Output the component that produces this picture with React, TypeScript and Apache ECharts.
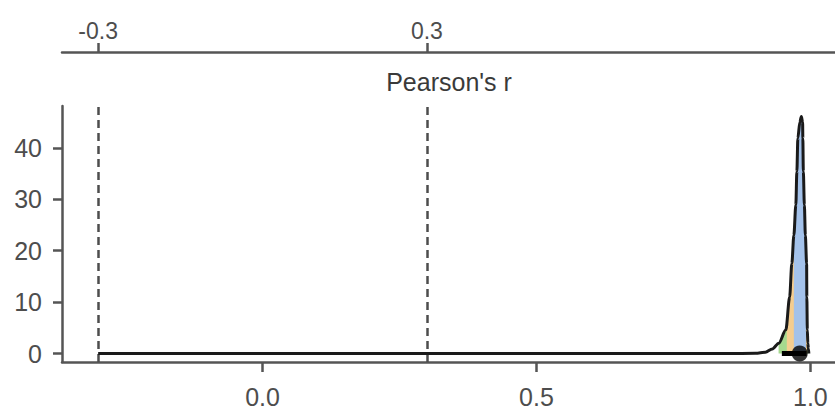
import React, { useEffect, useRef } from "react";
import * as echarts from "echarts";

// Posterior density of Pearson's r
const densityR = [-0.3, 0.85, 0.9, 0.918, 0.9306, 0.9425, 0.9553, 0.9622, 0.9662, 0.9699, 0.9735, 0.9754, 0.9772, 0.9808, 0.9836, 0.9859, 0.9863, 0.9872, 0.9891, 0.9909, 0.9932, 0.9936, 0.9945, 0.9954, 0.9964, 0.9973];
const densityVal = [0, 0, 0.03, 0.25, 0.9, 2.0, 4.6, 11, 17.5, 23, 28.9, 35.4, 41.9, 45, 46.1, 45, 41.9, 35.4, 28.9, 23, 17.5, 11, 4.6, 2, 1, 0];

// credible-interval bands (r, density)
const greenBand = [[0.942, 2.0], [0.9553, 4.6], [0.9622, 11], [0.9662, 17.5], [0.9699, 23], [0.9735, 28.9], [0.9754, 35.4], [0.9772, 41.9], [0.9808, 45], [0.9836, 46.1], [0.9859, 45], [0.9863, 41.9], [0.9872, 35.4], [0.9891, 28.9], [0.9909, 23], [0.9932, 17.5], [0.9936, 11], [0.9945, 4.6], [0.9954, 2], [0.9964, 1], [0.997, 0.3]];
const orangeBand = [[0.957, 6.3], [0.9622, 11], [0.9662, 17.5], [0.9699, 23], [0.9735, 28.9], [0.9754, 35.4], [0.9772, 41.9], [0.9808, 45], [0.9836, 46.1], [0.9859, 45], [0.9863, 41.9], [0.9872, 35.4], [0.9891, 28.9], [0.9909, 23], [0.9932, 17.5], [0.9936, 11], [0.994, 8]];
const blueBand = [[0.9699, 23], [0.9735, 28.9], [0.9754, 35.4], [0.9772, 41.9], [0.9808, 45], [0.9836, 46.1], [0.9859, 45], [0.9863, 41.9], [0.9872, 35.4], [0.9891, 28.9], [0.9909, 23], [0.992, 20]];

const intervalR = [0.948, 0.993];
const pointEstimate = 0.9806;

const bottomTicks = [0, 0.5, 1.0];
const topTicks = [-0.3, 0.3];
const yTicks = [0, 10, 20, 30, 40];
const ropeLines = [-0.3, 0.3];

const X_MIN = -0.366;
const X_MAX = 1.045;
const Y_MIN = -1.65;
const Y_MAX = 48.15;

const FONT = "'Liberation Sans', Arial, sans-serif";
const AXIS_COLOR = "#555555";
const LABEL_COLOR = "#4d4d4d";
const FS = 25;

export default function App() {
  const ref = useRef<HTMLDivElement>(null);
  useEffect(() => {
    if (!ref.current) return;
    const chart = echarts.init(ref.current, undefined, { renderer: "svg" });
    const smooth = 0.3;
    const density = densityR.map((r, i) => [r, densityVal[i]]);
    const option: any = {
      animation: false,
      textStyle: { fontFamily: FONT },
      grid: { left: 62, right: 0, top: 106, bottom: 52, containLabel: false },
      xAxis: [
        {
          type: "value",
          min: X_MIN,
          max: X_MAX,
          position: "bottom",
          axisLine: { onZero: false, lineStyle: { color: AXIS_COLOR, width: 2.5 } },
          axisTick: { customValues: bottomTicks, length: 10, lineStyle: { color: AXIS_COLOR, width: 2.5 } },
          axisLabel: {
            customValues: bottomTicks,
            margin: 22,
            color: LABEL_COLOR,
            fontSize: FS,
            fontFamily: FONT,
            formatter: (v: number) => v.toFixed(1),
          },
          splitLine: { show: false },
        },
        {
          type: "value",
          min: X_MIN,
          max: X_MAX,
          position: "top",
          offset: 54,
          axisLine: { onZero: false, lineStyle: { color: AXIS_COLOR, width: 2.5 } },
          axisTick: { customValues: topTicks, length: 9, lineStyle: { color: AXIS_COLOR, width: 2.5 } },
          axisLabel: {
            customValues: topTicks,
            margin: 10,
            color: LABEL_COLOR,
            fontSize: 23,
            fontFamily: FONT,
            formatter: (v: number) => v.toFixed(1),
          },
          splitLine: { show: false },
        },
      ],
      yAxis: {
        type: "value",
        min: Y_MIN,
        max: Y_MAX,
        axisLine: { show: true, onZero: false, lineStyle: { color: AXIS_COLOR, width: 2.5 } },
        axisTick: { show: true, customValues: yTicks, length: 9, lineStyle: { color: AXIS_COLOR, width: 2.5 } },
        axisLabel: { customValues: yTicks, margin: 20, color: LABEL_COLOR, fontSize: FS, fontFamily: FONT },
        splitLine: { show: false },
      },
      graphic: [
        {
          type: "text",
          x: 449,
          y: 82,
          style: {
            text: "Pearson's r",
            fontSize: FS,
            fontFamily: FONT,
            fill: "#3a3a3a",
            align: "center",
            verticalAlign: "middle",
          },
        },
      ],
      series: [
        {
          type: "line",
          data: greenBand,
          smooth,
          smoothMonotone: "x",
          showSymbol: false,
          lineStyle: { width: 0 },
          areaStyle: { color: "#a6d98f", opacity: 1 },
          z: 2,
        },
        {
          type: "line",
          data: orangeBand,
          smooth,
          smoothMonotone: "x",
          showSymbol: false,
          lineStyle: { width: 0 },
          areaStyle: { color: "#f5cd8f", opacity: 1 },
          z: 3,
        },
        {
          type: "line",
          data: blueBand,
          smooth,
          smoothMonotone: "x",
          showSymbol: false,
          lineStyle: { width: 0 },
          areaStyle: { color: "#a4c2ea", opacity: 1 },
          z: 4,
        },
        {
          type: "line",
          data: density,
          smooth,
          smoothMonotone: "x",
          showSymbol: false,
          lineStyle: { color: "#1a1a1a", width: 3 },
          z: 5,
          markLine: {
            silent: true,
            symbol: ["none", "none"],
            label: { show: false },
            lineStyle: { color: "#4d4d4d", width: 2.5, type: [8, 5] },
            data: ropeLines.map((v) => ({ xAxis: v })),
          },
        },
        {
          type: "line",
          data: intervalR.map((r) => [r, 0]),
          showSymbol: false,
          lineStyle: { color: "#000000", width: 5 },
          z: 6,
        },
        {
          type: "scatter",
          data: [[pointEstimate, 0]],
          symbolSize: 16,
          itemStyle: { color: "#000000" },
          z: 7,
        },
      ],
    };
    chart.setOption(option);
    return () => chart.dispose();
  }, []);
  return <div ref={ref} style={{ width: 835, height: 414, position: "absolute", left: 0, top: 0 }} />;
}
